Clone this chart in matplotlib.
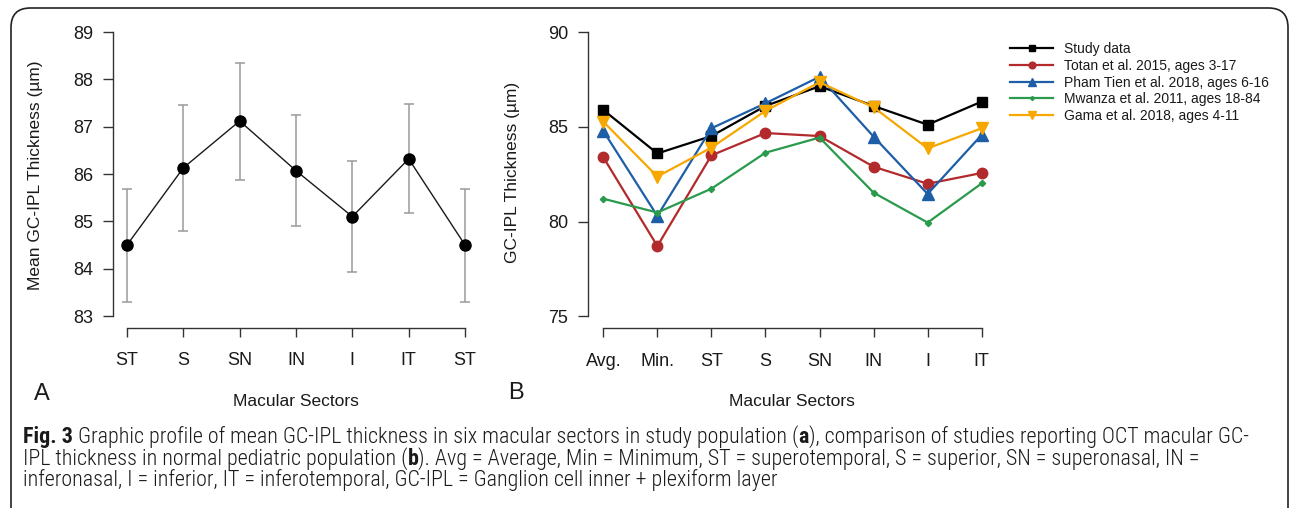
import matplotlib
matplotlib.use("Agg")
import matplotlib.pyplot as plt
from matplotlib import font_manager
from matplotlib.patches import FancyBboxPatch
import numpy as np

# panel A data
sectors_a = ["ST", "S", "SN", "IN", "I", "IT", "ST"]
mean_a = [84.5, 86.13, 87.12, 86.07, 85.1, 86.32, 84.5]
upper_a = [85.68, 87.45, 88.35, 87.25, 86.27, 87.47, 85.68]
lower_a = [83.3, 84.8, 85.88, 84.9, 83.93, 85.17, 83.3]

# panel B data
sectors_b = ["Avg.", "Min.", "ST", "S", "SN", "IN", "I", "IT"]
study = [85.9, 83.6, 84.52, 86.11, 87.15, 86.11, 85.12, 86.34]
totan = [83.4, 78.71, 83.5, 84.68, 84.52, 82.9, 82.0, 82.57]
pham = [84.79, 80.3, 84.93, 86.25, 87.65, 84.49, 81.46, 84.58]
mwanza = [81.21, 80.48, 81.74, 83.64, 84.44, 81.53, 79.95, 82.02]
gama = [85.28, 82.38, 83.91, 85.85, 87.36, 86.04, 83.87, 84.93]

labels_b = ["Study data", "Totan et al. 2015, ages 3-17",
            "Pham Tien et al. 2018, ages 6-16", "Mwanza et al. 2011, ages 18-84",
            "Gama et al. 2018, ages 4-11"]

W, H = 1292, 508
plt.rcParams['font.family'] = ['Liberation Sans', 'DejaVu Sans']

# pick a narrow font for the caption if one is around
fams = {}
for f in font_manager.fontManager.ttflist:
    fams.setdefault(f.name, set()).add(f.stretch)
cap_font, cap_stretch = 'Liberation Sans', 'normal'
for name in ['Liberation Sans Narrow', 'Roboto Condensed', 'Open Sans Condensed']:
    if name in fams:
        cap_font = name
        break
else:
    for name in ['Open Sans', 'Roboto', 'DejaVu Sans']:
        st = fams.get(name, set())
        if any(s in ('condensed', 'semi-condensed', 75, 87.5) or 'ondensed' in str(s) for s in st):
            cap_font, cap_stretch = name, 'condensed'
            break

fig = plt.figure(figsize=(W / 100, H / 100), dpi=100)


def px_axes(x0, y0, x1, y1):
    return fig.add_axes([x0 / W, 1 - y1 / H, (x1 - x0) / W, (y1 - y0) / H])


def style(ax, ymin, ymax, n):
    for s in ["top", "right"]:
        ax.spines[s].set_visible(False)
    for s in ["left", "bottom"]:
        ax.spines[s].set_color("#333333")
        ax.spines[s].set_linewidth(1.0)
    ax.spines["bottom"].set_position(("outward", 8.6))
    ax.spines["left"].set_bounds(ymin, ymax)
    ax.spines["bottom"].set_bounds(0, n - 1)
    ax.tick_params(axis="y", length=7.2, width=1.0, color="#333333", pad=7,
                   labelsize=13, labelcolor="#1a1a1a")
    ax.tick_params(axis="x", length=6.5, width=1.0, color="#333333", pad=11,
                   labelsize=13, labelcolor="#1a1a1a")
    ax.patch.set_alpha(0)


# ---- panel A
axA = px_axes(113, 32, 479, 316)
xa = np.arange(len(mean_a))
yerr = [np.array(mean_a) - np.array(lower_a), np.array(upper_a) - np.array(mean_a)]
axA.errorbar(xa, mean_a, yerr=yerr, fmt="none", ecolor="#9a9a9a", elinewidth=1.1,
             capsize=3.8, capthick=1.1)
axA.plot(xa, mean_a, color="#1a1a1a", lw=1.0, marker="o", ms=8, mfc="black", mec="black")
axA.set_xlim(-0.2486, 6.2486)
axA.set_ylim(83, 89)
axA.set_yticks(range(83, 90))
axA.set_xticks(xa)
axA.set_xticklabels(sectors_a)
style(axA, 83, 89, len(xa))
fig.text(36 / W, 1 - 175 / H, "Mean GC-IPL Thickness (\u00b5m)", rotation=90,
         ha="center", va="center", fontsize=12.5, color="#1a1a1a")
fig.text(296 / W, 1 - 402 / H, "Macular Sectors", ha="center", va="center",
         fontsize=12.5, color="#1a1a1a")
fig.text(42 / W, 1 - 394 / H, "A", ha="center", va="center", fontsize=17, color="#1a1a1a")

# ---- panel B
axB = px_axes(588, 32.3, 997, 316.3)
xb = np.arange(len(sectors_b))
series = [study, totan, pham, mwanza, gama]
colors = ["#000000", "#b22a2c", "#1d5ea6", "#2a9a4c", "#f6a800"]
markers = ["s", "o", "^", "D", "v"]
sizes = [7, 7.5, 8, 3.2, 9]
for vals, c, m, s, lab in zip(series, colors, markers, sizes, labels_b):
    axB.plot(xb, vals, color=c, lw=1.6, marker=m, ms=s, mfc=c, mec=c, label=lab)
axB.set_xlim(-0.283, 7.283)
axB.set_ylim(75, 90)
axB.set_yticks([75, 80, 85, 90])
axB.set_xticks(xb)
axB.set_xticklabels(sectors_b)
style(axB, 75, 90, len(xb))
fig.text(512 / W, 1 - 172 / H, "GC-IPL Thickness (\u00b5m)", rotation=90,
         ha="center", va="center", fontsize=12.5, color="#1a1a1a")
fig.text(792 / W, 1 - 402 / H, "Macular Sectors", ha="center", va="center",
         fontsize=12.5, color="#1a1a1a")
fig.text(516 / W, 1 - 393 / H, "B", ha="center", va="center", fontsize=17, color="#1a1a1a")

leg = fig.legend(loc="upper left", bbox_to_anchor=(1010 / W, 1 - 42 / H),
                 frameon=False, fontsize=10, handlelength=3.1, handletextpad=0.8,
                 labelspacing=0.2, borderpad=0, borderaxespad=0, markerscale=0.65)
for t in leg.get_texts():
    t.set_color("#1a1a1a")

# ---- frame around figure and caption
box = FancyBboxPatch((11 / W, -20 / H), 1277 / W, 520 / H,
                     boxstyle="round,pad=0,rounding_size=0.015",
                     transform=fig.transFigure, fill=False, ec="#222222", lw=1.2,
                     mutation_aspect=W / H)
fig.patches.append(box)

# ---- caption, mixed bold / regular
cap_lines = [
    [("Fig. 3", True), (" Graphic profile of mean GC-IPL thickness in six macular sectors in study population (", False),
     ("a", True), ("), comparison of studies reporting OCT macular GC-", False)],
    [("IPL thickness in normal pediatric population (", False), ("b", True),
     ("). Avg = Average, Min = Minimum, ST = superotemporal, S = superior, SN = superonasal, IN =", False)],
    [("inferonasal, I = inferior, IT = inferotemporal, GC-IPL = Ganglion cell inner + plexiform layer", False)],
]
cap_y = [437, 459, 480]
fig.canvas.draw()
renderer = fig.canvas.get_renderer()

# size the caption so the first line spans the same width as the original
probe_w = 0
for txt, bold in cap_lines[0]:
    t = fig.text(0, 0, txt, fontsize=12, family=cap_font, stretch=cap_stretch,
                 weight="bold" if bold else "light")
    probe_w += t.get_window_extent(renderer).width
    t.remove()
cap_size = 12 * 1224 / probe_w

for line, yy in zip(cap_lines, cap_y):
    x = 23
    for txt, bold in line:
        t = fig.text(x / W, 1 - yy / H, txt, ha="left", va="center", fontsize=cap_size,
                     family=cap_font, stretch=cap_stretch,
                     weight="bold" if bold else "light", color="#1a1a1a")
        x += t.get_window_extent(renderer).width

fig.savefig("out.png", dpi=100)
